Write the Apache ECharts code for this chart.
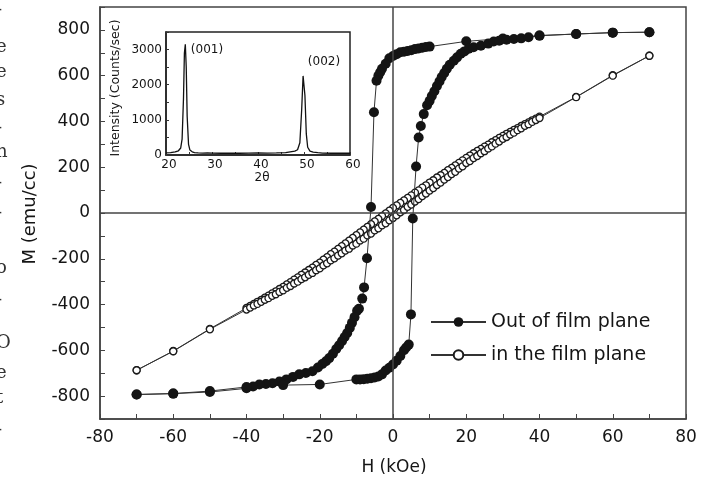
<!DOCTYPE html>
<html>
<head>
<meta charset="utf-8">
<script src="https://cdn.jsdelivr.net/npm/echarts@6/dist/echarts.min.js"></script>
<style>
html,body{margin:0;padding:0;background:#fff;}
#chart{width:709px;height:484px;}
</style>
</head>
<body>
<div id="chart"></div>
<script>
// Out of film plane: descending branch (+70 -> -70) and ascending branch (-70 -> +70)
const outDescH = [70,60,50,40,30,20,10,9,8,7,6,5,4,3,2,1,0,-1,-2,-3,-3.5,-4,-4.5,-5.2,-6,-7.1,-7.9,-8.4,-9.3,-9.8,-10.5,-11.2,-11.8,-12.5,-13.2,-13.9,-14.7,-15.5,-16.4,-17.4,-18.3,-19.3,-20.5,-22,-23.8,-25.6,-27.3,-29.1,-31,-32.9,-34.7,-36.5,-38.2,-40,-50,-60,-70];
const outDescM = [790,788,782,775,762,750,727,725,722,719,716,711,708,705,702,694,686,676,652,630,615,600,578,440,26,-198,-325,-374,-418,-427,-455,-480,-502,-524,-542,-559,-578,-594,-615,-634,-648,-660,-675,-691,-699,-705,-716,-727,-736,-744,-747,-749,-758,-766,-782,-789,-793];
const outAscH = [-70,-60,-50,-40,-30,-20,-10,-9,-8,-7,-6,-5,-4,-3,-2,-1,0,1,2,3,3.6,4.3,4.9,5.4,6.3,7,7.6,8.4,9.3,10,10.6,11.3,12,12.7,13.3,14,14.7,15.5,16.6,17.5,18.5,19.5,20.7,22,24,26,27.5,29,31,33,35,37,40,50,60,70];
const outAscM = [-793,-789,-778,-760,-752,-749,-727,-727,-726,-724,-722,-719,-714,-705,-688,-676,-662,-645,-625,-600,-588,-575,-443,-24,203,330,380,432,471,490,511,532,555,575,594,612,630,648,665,680,696,706,718,724,731,740,749,753,757,760,763,768,775,782,788,790];

// In the film plane: descending branch (+70 -> -70) and ascending branch (-70 -> +70)
const inDescH = [70,60,50,40,39,38,37,36,35,34,33,32,31,30,29,28,27,26,25,24,23,22,21,20,19,18,17,16,15,14,13,12,11,10,9,8,7,6,5,4,3,2,1,0,-1,-2,-3,-4,-5,-6,-7,-8,-9,-10,-11,-12,-13,-14,-15,-16,-17,-18,-19,-20,-21,-22,-23,-24,-25,-26,-27,-28,-29,-30,-31,-32,-33,-34,-35,-36,-37,-38,-39,-40,-50,-60,-70];
const inDescM = [687,602,507,421,412,405,396,388,380,371,363,354,346,337,328,318,309,299,290,280,271,261,251,241,230,219,208,197,187,175,165,155,143,133,121,111,99,89,77,66,55,44,33,22,10,-2,-13,-26,-37,-49,-61,-73,-85,-97,-109,-121,-133,-145,-157,-169,-180,-193,-204,-217,-227,-239,-249,-260,-270,-281,-291,-302,-312,-323,-332,-342,-351,-361,-370,-380,-388,-397,-406,-415,-506,-603,-687];
const inAscH = [-70,-60,-50,-40,-39,-38,-37,-36,-35,-34,-33,-32,-31,-30,-29,-28,-27,-26,-25,-24,-23,-22,-21,-20,-19,-18,-17,-16,-15,-14,-13,-12,-11,-10,-9,-8,-7,-6,-5,-4,-3,-2,-1,0,1,2,3,4,5,6,7,8,9,10,11,12,13,14,15,16,17,18,19,20,21,22,23,24,25,26,27,28,29,30,31,32,33,34,35,36,37,38,39,40,50,60,70];
const inAscM = [-687,-604,-508,-422,-413,-404,-397,-388,-379,-372,-362,-355,-345,-338,-327,-319,-308,-300,-289,-281,-270,-262,-250,-242,-229,-220,-207,-198,-186,-176,-164,-156,-142,-134,-120,-112,-98,-90,-76,-67,-54,-45,-32,-22,-10,3,13,27,37,50,61,74,85,98,109,122,133,146,157,170,180,194,204,218,227,240,249,261,270,282,291,303,312,324,332,343,351,362,370,381,388,398,406,415,506,600,687];

// XRD inset
const xrdTheta = [20,21,22,22.7,23.2,23.5,23.8,24.0,24.2,24.4,24.6,24.9,25.2,25.7,26.2,27,28,29,30,32,34,36,38,40,42,44,46,47,48,48.6,49.1,49.5,49.8,50.0,50.2,50.5,50.8,51.3,52,53,54,56,58,60];
const xrdCounts = [60,70,90,120,200,450,1600,2900,3150,2500,1100,300,140,90,70,60,55,60,55,50,55,50,55,60,55,60,70,90,110,150,350,1300,2250,2300,1700,600,220,110,80,65,55,50,50,50];

const xTicksMain = [-80,-60,-40,-20,0,20,40,60,80];
const yTicksMain = [-800,-600,-400,-200,0,200,400,600,800];
const xTicksInset = [20,30,40,50,60];
const yTicksInset = [0,1000,2000,3000];

function zip(a,b){return a.map((v,i)=>[v,b[i]]);}

const FONT = 'DejaVu Sans';
const TXT = '#151515';
const AX = '#444';

const chart = echarts.init(document.getElementById('chart'), null, {renderer:'canvas'});

const fragments = [
  {y:10,t:'-'},{y:47,t:'e'},{y:72,t:'e'},{y:100,t:'s'},{y:128,t:'-'},{y:152,t:'n'},
  {y:183,t:'-'},{y:213,t:'-'},{y:268,t:'o'},{y:300,t:'-'},{y:343,t:'O'},{y:373,t:'e'},
  {y:398,t:'t'},{y:430,t:'-'}
];

const option = {
  animation:false,
  backgroundColor:'#fff',
  grid:[
    {left:100, top:7, width:586, height:412, show:true, borderColor:AX, borderWidth:1.5, backgroundColor:'transparent', z:0},
    {left:166, top:32, width:184, height:123, show:true, borderColor:'#222', borderWidth:1.5, backgroundColor:'#fff', z:5}
  ],
  xAxis:[
    {gridIndex:0, type:'value', min:-80, max:80, interval:10,
     axisLine:{show:true, onZero:false, lineStyle:{color:AX, width:1.5}},
     axisTick:{show:true, inside:true, length:5, lineStyle:{color:AX}},
     splitLine:{show:false},
     axisLabel:{margin:10, fontFamily:FONT, fontSize:17, color:TXT,
       formatter:v=> xTicksMain.indexOf(v)>=0 ? String(v) : ''}},
    {gridIndex:1, type:'value', min:20, max:60, interval:5, z:6,
     axisLine:{show:true, onZero:false, lineStyle:{color:'#222', width:1.5}},
     axisTick:{show:true, inside:true, length:3, lineStyle:{color:'#333'}},
     splitLine:{show:false},
     axisLabel:{margin:4, fontFamily:FONT, fontSize:12, color:TXT, padding:[0,0,0,6],
       formatter:v=> xTicksInset.indexOf(v)>=0 ? String(v) : ''}}
  ],
  yAxis:[
    {gridIndex:0, type:'value', min:-900, max:900, interval:100,
     axisLine:{show:true, onZero:false, lineStyle:{color:AX, width:1.5}},
     axisTick:{show:true, inside:true, length:5, lineStyle:{color:AX}},
     splitLine:{show:false},
     axisLabel:{margin:10, fontFamily:FONT, fontSize:17, color:TXT,
       formatter:v=> yTicksMain.indexOf(v)>=0 ? String(v) : ''}},
    {gridIndex:1, type:'value', min:0, max:3500, interval:500, z:6,
     axisLine:{show:true, onZero:false, lineStyle:{color:'#222', width:1.5}},
     axisTick:{show:true, inside:true, length:3, lineStyle:{color:'#333'}},
     splitLine:{show:false},
     axisLabel:{margin:4, fontFamily:FONT, fontSize:12, color:TXT,
       formatter:v=> yTicksInset.indexOf(v)>=0 ? String(v) : ''}}
  ],
  legend:{
    data:['Out of film plane','in the film plane'],
    orient:'vertical', left:425, top:307, itemWidth:55, itemHeight:12, itemGap:13,
    textStyle:{fontFamily:FONT, fontSize:19, color:TXT, lineHeight:20},
    selectedMode:false
  },
  series:[
    {name:'in the film plane', type:'line', xAxisIndex:0, yAxisIndex:0,
     data: zip(inDescH,inDescM).concat(zip(inAscH,inAscM)),
     symbol:'circle', symbolSize:7, showAllSymbol:true,
     itemStyle:{color:'#fff', borderColor:'#1a1a1a', borderWidth:1.3},
     lineStyle:{color:'#333', width:1},
     markLine:{silent:true, symbol:'none', label:{show:false},
       lineStyle:{color:AX, width:1.5, type:'solid'},
       data:[{xAxis:0},{yAxis:0}]},
     z:2},
    {name:'Out of film plane', type:'line', xAxisIndex:0, yAxisIndex:0,
     data: zip(outDescH,outDescM).concat(zip(outAscH,outAscM)),
     symbol:'circle', symbolSize:10, showAllSymbol:true,
     itemStyle:{color:'#141414', borderColor:'#141414', borderWidth:0},
     lineStyle:{color:'#333', width:1},
     z:3},
    {name:'XRD', type:'line', xAxisIndex:1, yAxisIndex:1,
     data: zip(xrdTheta,xrdCounts), symbol:'none',
     lineStyle:{color:'#111', width:1.3}, z:7}
  ],
  graphic:[
    {type:'text', x:394, y:468, style:{text:'H (kOe)', font:'17px "DejaVu Sans"', fill:TXT, textAlign:'center', textVerticalAlign:'middle'}},
    {type:'text', x:30, y:214, rotation:Math.PI/2, style:{text:'M (emu/cc)', font:'18px "DejaVu Sans"', fill:TXT, textAlign:'center', textVerticalAlign:'middle'}},
    {type:'text', x:116, y:88, rotation:Math.PI/2, z:10, style:{text:'Intensity (Counts/sec)', font:'12.5px "DejaVu Sans"', fill:TXT, textAlign:'center', textVerticalAlign:'middle'}},
    {type:'text', x:262, y:178, z:10, style:{text:'2θ', font:'12px "DejaVu Sans"', fill:TXT, textAlign:'center', textVerticalAlign:'middle'}},
    {type:'text', x:207, y:50, z:10, style:{text:'(001)', font:'12px "DejaVu Sans"', fill:TXT, textAlign:'center', textVerticalAlign:'middle'}},
    {type:'text', x:324, y:62, z:10, style:{text:'(002)', font:'12px "DejaVu Sans"', fill:TXT, textAlign:'center', textVerticalAlign:'middle'}}
  ].concat(fragments.map(f=>({type:'text', x:-4, y:f.y, style:{text:f.t, font:'18px "DejaVu Serif"', fill:'#333', textAlign:'left', textVerticalAlign:'middle'}})))
};
chart.setOption(option);
</script>
</body>
</html>
